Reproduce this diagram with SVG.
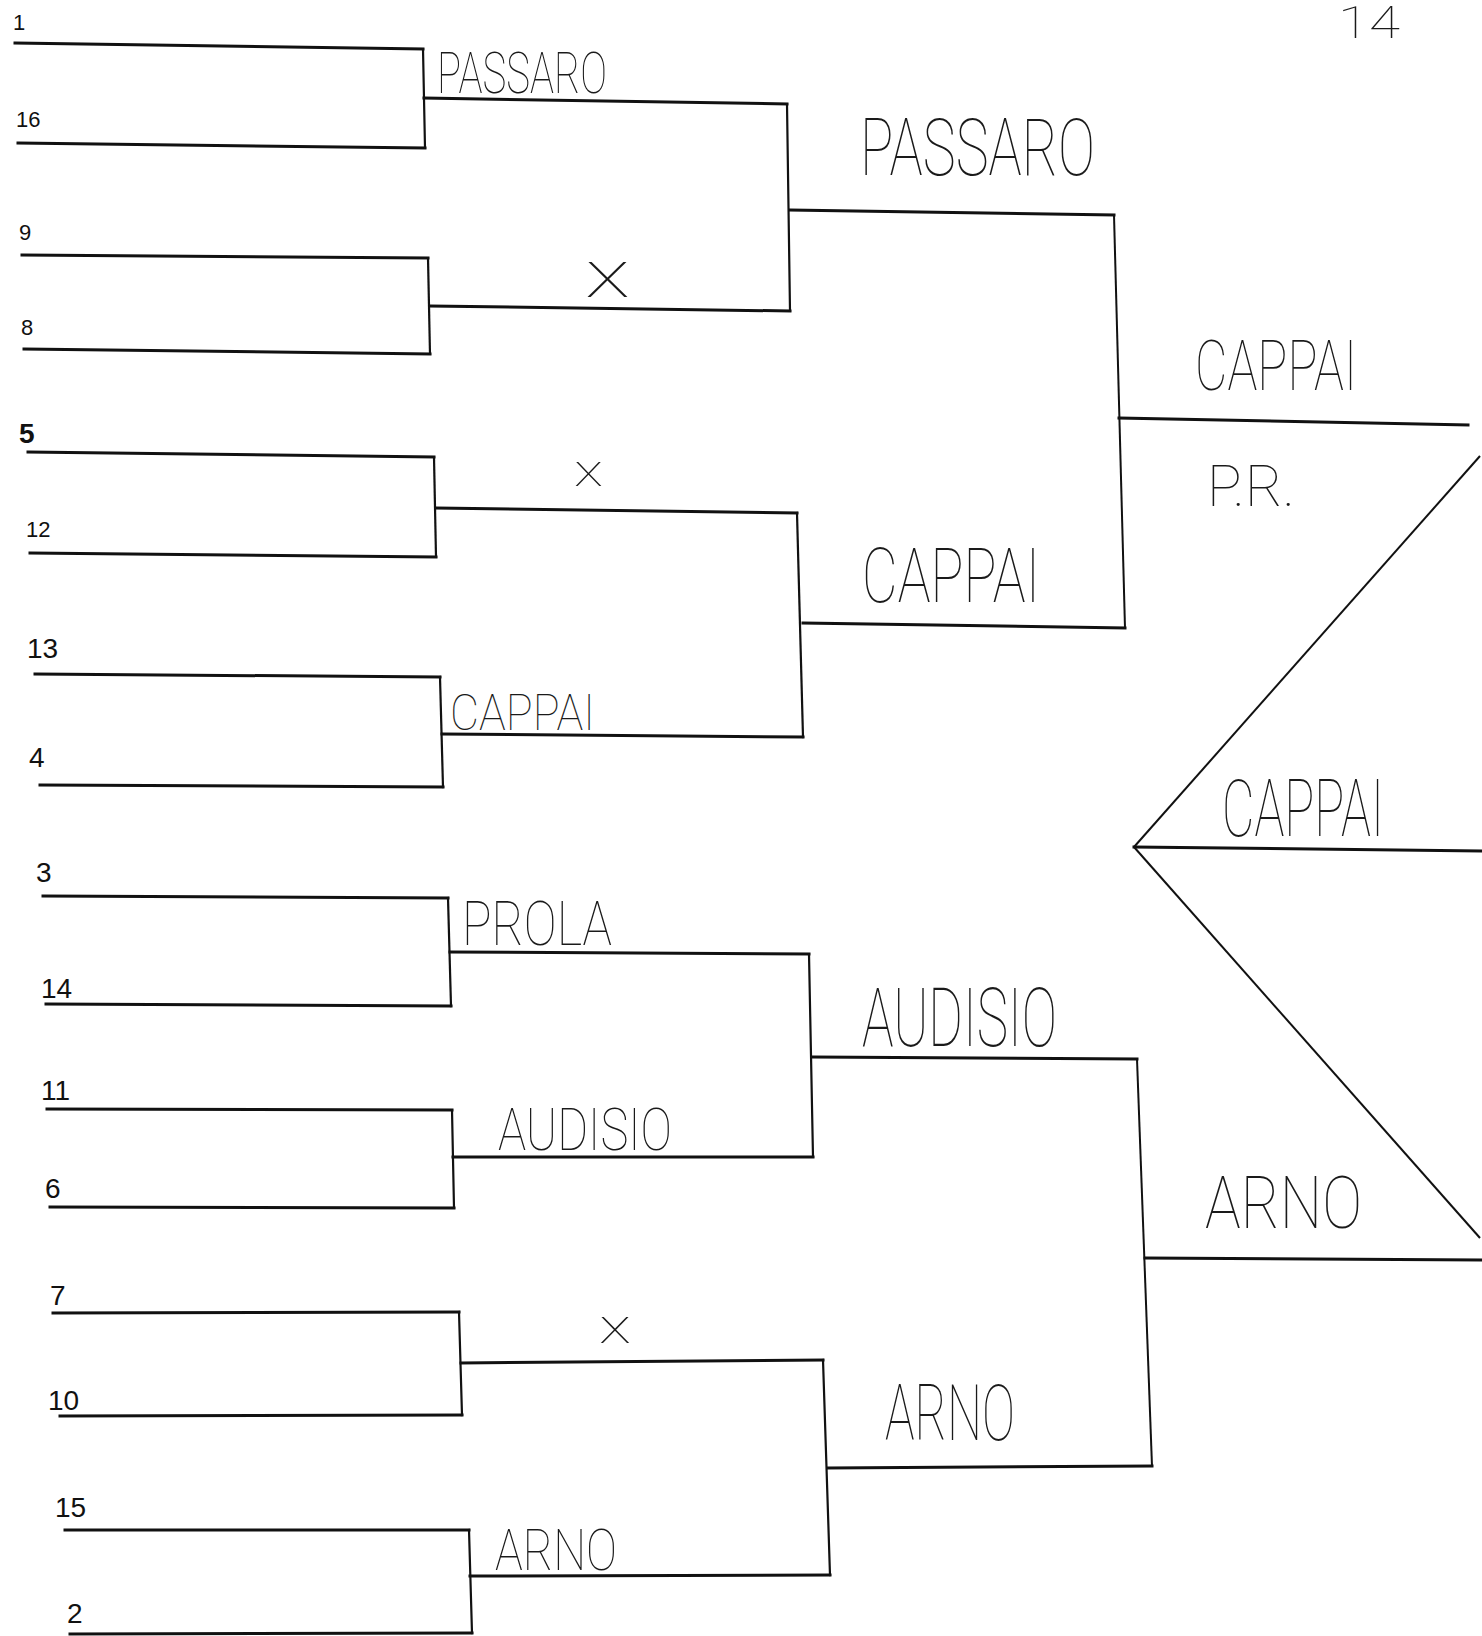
<svg xmlns="http://www.w3.org/2000/svg" width="1482" height="1636" viewBox="0 0 1482 1636">
<style>
.bg{fill:#ffffff}
.slot{stroke:#111;stroke-width:3;fill:none;stroke-linecap:square}
.join{stroke:#111;stroke-width:2.2;fill:none;stroke-linecap:square}
.thin{stroke:#111;stroke-width:2;fill:none}
.seed{font-family:"Liberation Sans",Arial,sans-serif;font-size:22px;fill:#111}
.seedh{font-family:"Liberation Sans",Arial,sans-serif;font-size:28px;fill:#111}
.hand{font-family:Roboto,"Liberation Sans",sans-serif;font-weight:100;fill:#1a1a1a}
</style>
<rect class="bg" x="0" y="0" width="1482" height="1636"/>

<!-- Round 1 slots -->
<g id="seed-1"><line class="slot" x1="15" y1="43" x2="423" y2="49"/><text class="seed" x="13" y="30">1</text></g>
<g id="seed-16"><line class="slot" x1="18" y1="143" x2="425" y2="148"/><text class="seed" x="16" y="127">16</text></g>
<g id="seed-9"><line class="slot" x1="22" y1="255" x2="428" y2="258"/><text class="seed" x="19" y="240">9</text></g>
<g id="seed-8"><line class="slot" x1="24" y1="349" x2="430" y2="354"/><text class="seed" x="21" y="335">8</text></g>
<g id="seed-5"><line class="slot" x1="28" y1="452" x2="434" y2="457"/><text class="seedh" x="19" y="443" font-weight="bold">5</text></g>
<g id="seed-12"><line class="slot" x1="30" y1="553" x2="436" y2="557"/><text class="seed" x="26" y="537">12</text></g>
<g id="seed-13"><line class="slot" x1="35" y1="674" x2="440" y2="677"/><text class="seedh" x="27" y="658">13</text></g>
<g id="seed-4"><line class="slot" x1="40" y1="785" x2="443" y2="787"/><text class="seedh" x="29" y="767">4</text></g>
<g id="seed-3"><line class="slot" x1="43" y1="896" x2="448" y2="898"/><text class="seedh" x="36" y="882">3</text></g>
<g id="seed-14"><line class="slot" x1="46" y1="1004" x2="451" y2="1006"/><text class="seedh" x="41" y="998">14</text></g>
<g id="seed-11"><line class="slot" x1="47" y1="1109" x2="452" y2="1110"/><text class="seedh" x="41" y="1100">11</text></g>
<g id="seed-6"><line class="slot" x1="50" y1="1207" x2="454" y2="1208"/><text class="seedh" x="45" y="1198">6</text></g>
<g id="seed-7"><line class="slot" x1="53" y1="1313" x2="459" y2="1312"/><text class="seedh" x="50" y="1305">7</text></g>
<g id="seed-10"><line class="slot" x1="60" y1="1416" x2="462" y2="1415"/><text class="seedh" x="48" y="1410">10</text></g>
<g id="seed-15"><line class="slot" x1="65" y1="1530" x2="469" y2="1530"/><text class="seedh" x="55" y="1517">15</text></g>
<g id="seed-2"><line class="slot" x1="70" y1="1634" x2="472" y2="1633"/><text class="seedh" x="67" y="1623">2</text></g>

<!-- Round 2 slots -->
<g id="r2-1"><line class="slot" x1="424" y1="98" x2="787" y2="104"/><text class="hand" x="437" y="93" font-size="58" textLength="170" lengthAdjust="spacingAndGlyphs">PASSARO</text></g>
<g id="r2-2"><line class="slot" x1="430" y1="306" x2="790" y2="311"/><text class="hand" x="585" y="297" font-size="66" textLength="45" lengthAdjust="spacingAndGlyphs">x</text></g>
<g id="r2-3"><line class="slot" x1="436" y1="508" x2="797" y2="513"/><text class="hand" x="574" y="486" font-size="44" textLength="29" lengthAdjust="spacingAndGlyphs">x</text></g>
<g id="r2-4"><line class="slot" x1="442" y1="734" x2="803" y2="737"/><text class="hand" x="450" y="730" font-size="50" textLength="145" lengthAdjust="spacingAndGlyphs">CAPPAI</text></g>
<g id="r2-5"><line class="slot" x1="450" y1="952" x2="809" y2="954"/><text class="hand" x="462" y="945" font-size="62" textLength="150" lengthAdjust="spacingAndGlyphs">PROLA</text></g>
<g id="r2-6"><line class="slot" x1="453" y1="1157" x2="813" y2="1157"/><text class="hand" x="498" y="1150" font-size="60" textLength="174" lengthAdjust="spacingAndGlyphs">AUDISIO</text></g>
<g id="r2-7"><line class="slot" x1="461" y1="1363" x2="823" y2="1360"/><text class="hand" x="599" y="1343" font-size="48" textLength="32" lengthAdjust="spacingAndGlyphs">x</text></g>
<g id="r2-8"><line class="slot" x1="470" y1="1576" x2="830" y2="1575"/><text class="hand" x="495" y="1570" font-size="58" textLength="122" lengthAdjust="spacingAndGlyphs">ARNO</text></g>

<!-- Round 3 slots -->
<g id="r3-1"><line class="slot" x1="790" y1="210" x2="1114" y2="215"/><text class="hand" x="860" y="175" font-size="80" textLength="235" lengthAdjust="spacingAndGlyphs">PASSARO</text></g>
<g id="r3-2"><line class="slot" x1="803" y1="623" x2="1125" y2="628"/><text class="hand" x="862" y="602" font-size="76" textLength="178" lengthAdjust="spacingAndGlyphs">CAPPAI</text></g>
<g id="r3-3"><line class="slot" x1="813" y1="1057" x2="1137" y2="1059"/><text class="hand" x="862" y="1046" font-size="82" textLength="195" lengthAdjust="spacingAndGlyphs">AUDISIO</text></g>
<g id="r3-4"><line class="slot" x1="828" y1="1468" x2="1152" y2="1466"/><text class="hand" x="885" y="1440" font-size="78" textLength="130" lengthAdjust="spacingAndGlyphs">ARNO</text></g>

<!-- Final slots -->
<g id="final-1"><line class="slot" x1="1119" y1="418" x2="1468" y2="425"/><text class="hand" x="1195" y="390" font-size="70" textLength="162" lengthAdjust="spacingAndGlyphs">CAPPAI</text><text class="hand" x="1207" y="506" font-size="58" textLength="88" lengthAdjust="spacingAndGlyphs">P.R.</text></g>
<g id="final-2"><line class="slot" x1="1145" y1="1258" x2="1482" y2="1260"/><text class="hand" x="1205" y="1228" font-size="72" textLength="157" lengthAdjust="spacingAndGlyphs">ARNO</text></g>

<!-- Champion -->
<g id="champion"><line class="slot" x1="1134" y1="847" x2="1482" y2="851"/><text class="hand" x="1222" y="836" font-size="80" textLength="162" lengthAdjust="spacingAndGlyphs">CAPPAI</text></g>

<!-- Page number -->
<g id="page-number"><text class="hand" x="1338" y="38" font-size="44" textLength="62" lengthAdjust="spacingAndGlyphs">14</text></g>

<!-- Connectors -->
<g id="connectors">
<line class="join" x1="423" y1="49" x2="425" y2="148"/>
<line class="join" x1="428" y1="258" x2="430" y2="354"/>
<line class="join" x1="434" y1="457" x2="436" y2="557"/>
<line class="join" x1="440" y1="677" x2="443" y2="787"/>
<line class="join" x1="448" y1="898" x2="451" y2="1006"/>
<line class="join" x1="452" y1="1110" x2="454" y2="1208"/>
<line class="join" x1="459" y1="1312" x2="462" y2="1415"/>
<line class="join" x1="469" y1="1530" x2="472" y2="1633"/>
<line class="join" x1="787" y1="104" x2="790" y2="311"/>
<line class="join" x1="797" y1="513" x2="803" y2="737"/>
<line class="join" x1="809" y1="954" x2="813" y2="1157"/>
<line class="join" x1="823" y1="1360" x2="830" y2="1575"/>
<line class="thin" x1="1114" y1="215" x2="1125" y2="628"/>
<line class="thin" x1="1137" y1="1059" x2="1152" y2="1466"/>
<line class="thin" x1="1134" y1="847" x2="1480" y2="456"/>
<line class="thin" x1="1134" y1="847" x2="1480" y2="1238"/>
</g>
</svg>
